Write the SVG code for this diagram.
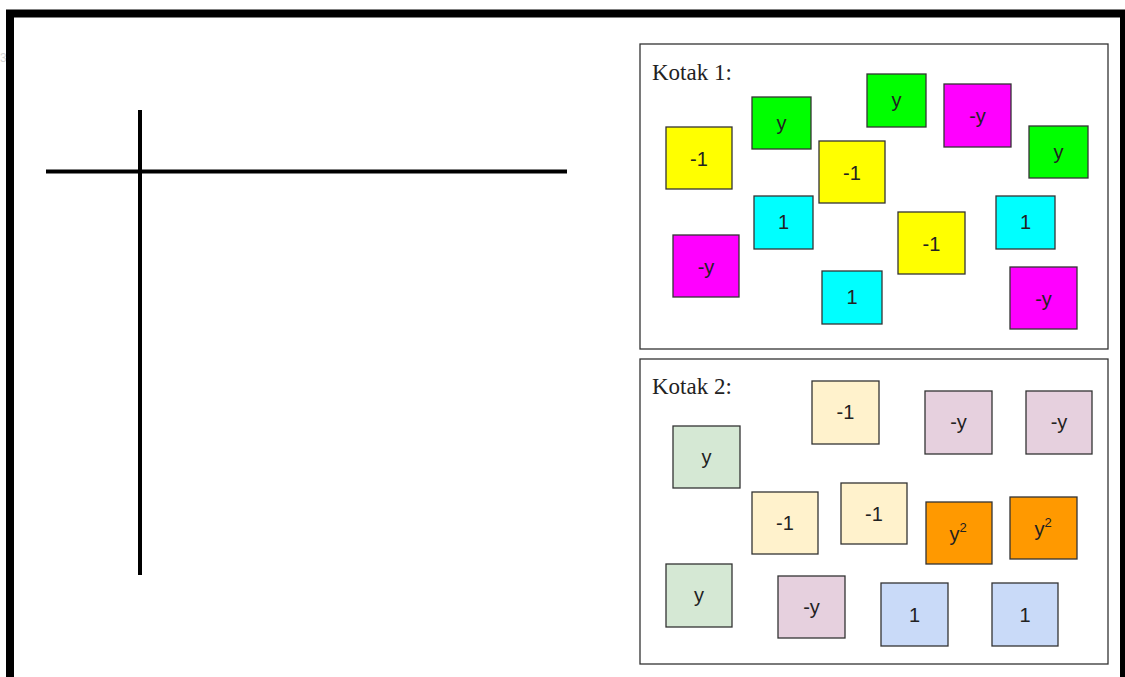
<svg xmlns="http://www.w3.org/2000/svg" width="1125" height="677" viewBox="0 0 1125 677">
<style>
.frame{fill:none;stroke:#000;stroke-width:8}
.axis{stroke:#000;stroke-width:4;fill:none}
.box{fill:#fff;stroke:#333;stroke-width:1.3}
.ttl{font-family:"Liberation Serif",serif;font-size:23px;fill:#222}
.t rect{stroke:#333;stroke-width:1.3}
.t text{font-family:"Liberation Sans",Arial,sans-serif;font-size:20px;fill:#222;text-anchor:middle}
.ye{fill:#ffff00}.gr{fill:#00ff00}.ma{fill:#ff00ff}.cy{fill:#00ffff}
.be{fill:#fff2cc}.pg{fill:#d5e8d4}.pk{fill:#e6d0de}.or{fill:#ff9900}.bl{fill:#c9daf8}
</style>
<rect width="1125" height="677" fill="#fff"/>
<text x="0" y="62" style="font-family:'Liberation Sans',sans-serif;font-size:12px;fill:#d4d4d4">3</text>
<g id="frame">
<path class="frame" d="M10,677 V13.5 H1124 V677"/>
</g>
<g id="axes">
<line class="axis" x1="46" y1="171.5" x2="567" y2="171.5"/>
<line class="axis" x1="140" y1="110" x2="140" y2="575"/>
</g>
<g id="kotak1">
<rect class="box" x="640" y="44" width="468" height="305"/>
<text class="ttl" x="652" y="80">Kotak 1:</text>
</g>
<g id="kotak2">
<rect class="box" x="640" y="359" width="468" height="305"/>
<text class="ttl" x="652" y="394">Kotak 2:</text>
</g>
<g id="k1-t1" class="t"><rect class="ye" x="666" y="127" width="66" height="62"/><text x="699" y="166">-1</text></g>
<g id="k1-t2" class="t"><rect class="gr" x="752" y="97" width="59" height="52"/><text x="781.5" y="130">y</text></g>
<g id="k1-t3" class="t"><rect class="ye" x="819" y="141" width="66" height="62"/><text x="852" y="180">-1</text></g>
<g id="k1-t4" class="t"><rect class="gr" x="867" y="74" width="59" height="53"/><text x="896.5" y="107">y</text></g>
<g id="k1-t5" class="t"><rect class="ma" x="944" y="84" width="67" height="63"/><text x="977.5" y="123">-y</text></g>
<g id="k1-t6" class="t"><rect class="gr" x="1029" y="126" width="59" height="52"/><text x="1058.5" y="159">y</text></g>
<g id="k1-t7" class="t"><rect class="cy" x="754" y="196" width="59" height="53"/><text x="783.5" y="229">1</text></g>
<g id="k1-t8" class="t"><rect class="ma" x="673" y="235" width="66" height="62"/><text x="706" y="274">-y</text></g>
<g id="k1-t9" class="t"><rect class="cy" x="822" y="271" width="60" height="53"/><text x="852" y="304">1</text></g>
<g id="k1-t10" class="t"><rect class="ye" x="898" y="212" width="67" height="62"/><text x="931.5" y="251">-1</text></g>
<g id="k1-t11" class="t"><rect class="cy" x="996" y="196" width="59" height="53"/><text x="1025.5" y="229">1</text></g>
<g id="k1-t12" class="t"><rect class="ma" x="1010" y="267" width="67" height="62"/><text x="1043.5" y="306">-y</text></g>
<g id="k2-t1" class="t"><rect class="be" x="812" y="381" width="67" height="63"/><text x="845.5" y="419">-1</text></g>
<g id="k2-t2" class="t"><rect class="pg" x="673" y="426" width="67" height="62"/><text x="706.5" y="464">y</text></g>
<g id="k2-t3" class="t"><rect class="pk" x="925" y="391" width="67" height="63"/><text x="958.5" y="429">-y</text></g>
<g id="k2-t4" class="t"><rect class="pk" x="1026" y="391" width="66" height="63"/><text x="1059" y="429">-y</text></g>
<g id="k2-t5" class="t"><rect class="be" x="752" y="492" width="66" height="62"/><text x="785" y="530">-1</text></g>
<g id="k2-t6" class="t"><rect class="be" x="841" y="483" width="66" height="61"/><text x="874" y="521">-1</text></g>
<g id="k2-t7" class="t"><rect class="or" x="926" y="502" width="66" height="62"/><text x="958" y="541">y<tspan dy="-9" font-size="13">2</tspan></text></g>
<g id="k2-t8" class="t"><rect class="or" x="1010" y="497" width="67" height="62"/><text x="1043" y="536">y<tspan dy="-9" font-size="13">2</tspan></text></g>
<g id="k2-t9" class="t"><rect class="pg" x="666" y="564" width="66" height="63"/><text x="699" y="602">y</text></g>
<g id="k2-t10" class="t"><rect class="pk" x="778" y="576" width="67" height="62"/><text x="811.5" y="614">-y</text></g>
<g id="k2-t11" class="t"><rect class="bl" x="881" y="583" width="67" height="63"/><text x="914.5" y="622">1</text></g>
<g id="k2-t12" class="t"><rect class="bl" x="992" y="583" width="66" height="63"/><text x="1025" y="622">1</text></g>
<g id="connectors"></g>
</svg>
